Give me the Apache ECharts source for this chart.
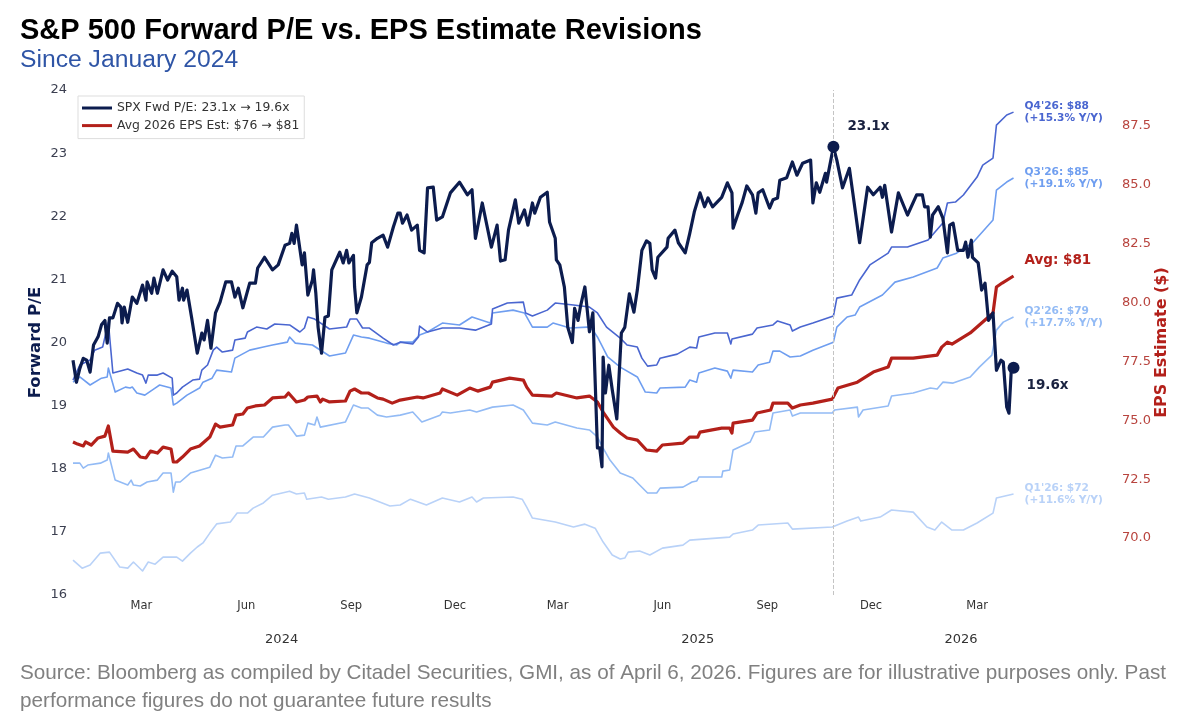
<!DOCTYPE html>
<html>
<head>
<meta charset="utf-8">
<title>S&amp;P 500 Forward P/E vs. EPS Estimate Revisions</title>
<script src="https://cdn.jsdelivr.net/npm/echarts@6/dist/echarts.min.js"></script>
<style>
	html, body { margin: 0; padding: 0; background: #fff; }
	#chart { width: 1199px; height: 728px; }
</style>
</head>
<body>
<div id="chart"></div>
<script>
// x values are days since 1 Jan 2024
var monthDays = [60, 152, 244, 335, 425, 517, 609, 700, 793];
var monthLabels = ["Mar", "Jun", "Sep", "Dec", "Mar", "Jun", "Sep", "Dec", "Mar"];
var yearDays = [183, 548, 779];
var yearLabels = ["2024", "2025", "2026"];
var epsTicks = [70, 72.5, 75, 77.5, 80, 82.5, 85, 87.5];

var peDays = [0,3,6,9,12,15,18,22,25,28,30,32,35,39,42,43,45,48,52,56,61,64,65,69,71,74,79,83,87,91,93,96,97,100,104,109,113,115,118,121,125,129,134,139,142,145,149,155,160,162,168,175,180,186,190,192,194,196,201,203,206,210,211,213,215,218,221,224,227,232,234,237,240,242,246,247,249,253,258,260,262,267,272,276,281,285,287,289,293,297,302,304,308,311,316,319,324,331,339,346,350,353,359,367,372,375,379,382,388,391,396,399,403,405,410,416,418,423,424,427,431,434,438,440,443,445,449,453,456,460,462,464,465,467,470,473,477,481,484,488,492,495,499,503,506,508,511,513,521,522,528,531,537,541,545,550,554,557,561,569,574,578,579,583,587,591,596,599,601,605,611,614,618,620,626,631,635,640,647,649,652,655,660,661,667,670,675,681,684,690,697,702,708,710,712,718,724,732,740,745,747,750,752,754,759,763,767,769,772,776,781,783,785,788,789,794,797,800,803,807,810,814,816,819,821,823,825];
var peValues = [19.72,19.37,19.59,19.75,19.72,19.53,19.96,20.09,20.28,20.35,19.99,20.39,20.39,20.62,20.56,20.31,20.56,20.32,20.72,20.62,20.91,20.67,20.96,20.78,21.02,20.78,21.15,20.99,21.13,21.04,20.67,20.86,20.67,20.83,20.4,19.83,20.15,20.04,20.35,19.91,20.47,20.64,20.96,20.96,20.72,20.86,20.55,20.94,20.94,21.18,21.35,21.15,21.23,21.54,21.57,21.73,21.57,21.86,21.23,21.42,20.75,20.99,21.15,20.78,20.24,19.83,20.4,20.42,21.15,21.35,21.43,21.26,21.46,21.26,21.38,20.88,20.47,20.72,21.23,21.27,21.58,21.65,21.7,21.51,21.83,22.05,22.05,21.89,22.02,21.78,21.86,21.46,21.42,22.45,22.46,21.94,21.99,22.37,22.54,22.34,22.42,21.65,22.21,21.51,21.86,21.29,21.31,21.78,22.26,21.89,22.1,21.86,22.21,22.05,22.3,22.38,21.91,21.65,21.31,21.23,20.88,20.24,20,20.54,20.35,20.56,20.88,20.17,20.47,18.33,18.33,18.03,19.77,19.2,19.64,19.25,18.79,20.15,20.24,20.77,20.48,20.83,21.46,21.61,21.57,21.15,21.02,21.35,21.51,21.65,21.78,21.58,21.42,21.73,22.07,22.37,22.15,22.29,22.15,22.3,22.53,22.37,21.81,22.02,22.22,22.48,22.34,22.05,22.37,22.42,22.13,22.26,22.29,22.57,22.61,22.86,22.65,22.84,22.89,22.21,22.53,22.38,22.68,22.54,23.1,22.89,22.45,22.76,22.37,21.58,22.46,22.34,22.46,22.3,22.49,21.75,22.37,22.02,22.34,22.34,22.15,22.15,21.67,22.02,22.15,21.97,21.42,21.86,21.89,21.46,21.46,21.59,21.35,21.62,21.35,21.26,20.83,20.94,20.35,20.47,19.56,19.72,19.69,18.98,18.88,19.56,19.6];

var avgDays = [0,4,9,11,16,22,28,31,35,48,53,59,64,68,74,79,86,88,91,96,103,111,115,120,125,129,140,143,149,153,160,168,175,186,189,196,203,206,214,217,219,225,239,243,247,253,259,267,272,280,287,302,307,322,324,337,348,355,366,368,383,395,398,403,420,424,442,453,460,465,474,480,486,495,503,512,517,535,541,548,550,569,576,578,579,596,600,612,614,627,631,638,649,666,671,688,702,715,718,737,758,762,767,771,787,795,807,810,815,825];
var avgValues = [74.08,73.99,73.91,74.08,73.95,74.25,74.33,74.76,73.69,73.65,73.78,73.44,73.4,73.69,73.61,73.86,73.78,73.23,73.23,73.44,73.78,73.91,74.08,74.29,74.84,74.71,74.8,75.22,75.27,75.52,75.61,75.65,75.95,75.99,76.16,75.78,75.86,75.99,76.03,75.78,75.9,75.78,75.82,76.24,76.33,76.16,76.16,75.95,75.9,75.73,75.86,75.99,75.95,76.16,76.33,76.07,76.37,76.24,76.41,76.62,76.79,76.71,76.41,76.07,76.03,76.16,75.95,76.03,75.78,75.35,74.71,74.46,74.25,74.16,73.74,73.69,73.95,74.03,74.29,74.29,74.5,74.67,74.67,74.46,74.88,75.01,75.31,75.44,75.73,75.73,75.52,75.65,75.73,75.9,76.37,76.62,77.05,77.26,77.64,77.64,77.77,78.11,78.32,78.24,78.71,79.05,79.56,80.66,80.83,81.13];

var q4Days = [0,6,15,19,26,31,35,44,48,56,61,64,66,74,79,87,88,91,96,105,111,113,118,123,126,131,140,142,151,153,161,170,177,190,199,203,206,212,225,240,243,249,254,260,272,281,287,298,303,304,311,324,339,353,367,368,381,395,397,403,416,423,439,453,460,468,480,486,495,499,504,512,515,530,541,547,549,563,574,577,578,596,600,614,618,629,631,638,649,667,670,683,690,699,715,718,732,750,763,767,774,781,793,798,807,810,819,825];
var q4Values = [76.71,77.35,77.56,77.98,78.11,79.17,77.01,77.13,77.18,77.01,76.92,76.58,76.92,76.92,77.01,76.79,76.07,76.16,76.41,76.71,76.75,77.13,77.35,77.98,78.11,77.9,77.98,78.41,78.49,78.75,78.96,78.88,79.09,79.05,78.75,78.92,79.39,79.3,78.88,78.96,79.3,79.3,78.92,78.92,78.49,78.2,78.32,78.24,78.54,79,78.75,78.92,78.92,78.83,79.09,79.73,79.98,80.02,79.56,79.43,79.68,79.98,79.9,79.81,79.56,78.96,78.49,78.2,78.11,77.64,77.3,77.35,77.64,77.81,78.11,78.07,78.54,78.71,78.71,78.24,78.45,78.66,78.92,79.05,79.22,79.05,78.79,78.96,79.13,79.43,80.19,80.32,80.96,81.6,82.1,82.36,82.36,82.66,83.38,84.23,84.27,84.57,85.33,85.84,86.14,87.54,87.97,88.09];

var q3Days = [0,6,15,25,30,31,37,46,50,52,56,63,72,76,86,88,91,100,111,114,122,126,139,142,155,167,175,188,190,195,210,225,239,246,253,260,275,284,287,298,304,311,324,339,350,366,368,386,396,403,416,421,436,451,456,460,469,480,495,502,512,515,537,541,547,549,563,574,577,579,596,601,611,614,620,629,638,649,667,670,679,686,690,710,721,737,758,763,775,789,807,810,819,825];
var q3Values = [76.62,76.84,76.5,76.79,76.84,77.22,76.2,76.41,76.37,76.41,76.16,76.07,76.37,76.5,76.37,75.65,75.73,76.07,76.37,76.62,76.79,77.13,77.05,77.64,77.98,78.11,78.2,78.32,78.54,78.28,78.2,77.73,77.86,78.62,78.54,78.49,78.28,78.2,78.32,78.32,78.62,78.75,79.13,79.05,79.39,79.13,79.56,79.68,79.56,78.96,78.96,79.13,78.92,78.96,78.83,78.54,77.69,77.26,76.84,76.2,76.16,76.37,76.41,76.71,76.62,77.01,77.22,77.09,76.79,77.13,77.05,77.35,77.47,77.94,77.94,77.69,77.73,77.98,78.32,78.96,79.39,79.47,79.81,80.32,80.87,81.09,81.47,81.89,82.1,82.53,83.51,84.78,85.12,85.29];

var q2Days = [0,6,9,13,24,30,31,37,48,51,53,59,65,74,79,86,88,90,94,103,120,125,131,140,143,149,158,167,175,186,189,196,203,206,212,214,217,239,246,253,259,267,275,287,298,306,322,324,331,348,354,368,386,395,403,416,423,442,453,460,465,471,480,491,497,504,512,515,535,543,547,549,569,570,576,579,594,598,611,614,629,631,638,666,668,688,689,693,715,718,737,752,758,763,772,787,795,806,810,816,825];
var q2Values = [73.18,73.18,72.97,73.1,73.18,73.31,73.61,72.46,72.25,72.46,72.25,72.21,72.38,72.46,72.76,72.76,71.95,72.38,72.38,72.76,73.01,73.52,73.4,73.44,73.91,73.91,74.29,74.29,74.71,74.8,74.8,74.33,74.37,74.88,74.8,75.14,74.71,74.93,75.65,75.52,75.52,75.22,75.14,75.22,75.35,74.93,75.22,75.35,75.31,75.44,75.35,75.56,75.65,75.44,74.88,74.8,74.93,74.67,74.59,74.29,73.82,73.31,72.76,72.55,72.25,71.91,71.91,72.12,72.16,72.38,72.42,72.59,72.59,72.84,72.89,73.74,74.08,74.5,74.59,75.31,75.44,75.18,75.31,75.31,75.44,75.56,75.14,75.44,75.61,76.03,76.16,76.37,76.33,76.62,76.58,76.84,77.26,77.77,78.83,79.17,79.39];

var q1Days = [0,8,15,24,32,41,48,53,61,66,72,79,91,96,103,109,114,120,126,138,144,153,158,167,175,190,196,203,205,218,224,239,247,260,278,287,296,310,324,339,350,354,360,386,394,398,403,423,439,449,458,465,473,480,484,487,497,506,517,535,541,576,579,596,601,627,631,666,679,689,691,708,718,737,749,756,762,771,781,793,807,810,825];
var q1Values = [69.06,68.72,68.85,69.36,69.4,68.77,68.72,68.98,68.6,68.98,68.89,69.19,69.19,69.02,69.36,69.62,69.79,70.21,70.6,70.68,71.06,71.06,71.27,71.49,71.82,71.99,71.87,71.91,71.65,71.74,71.65,71.74,71.87,71.7,71.36,71.4,71.65,71.4,71.7,71.53,71.74,71.53,71.7,71.74,71.65,71.31,70.85,70.68,70.47,70.59,70.42,69.83,69.28,69.11,69.15,69.4,69.45,69.28,69.57,69.7,69.91,70.04,70.17,70.34,70.55,70.64,70.38,70.47,70.72,70.89,70.72,70.89,71.19,71.1,70.47,70.34,70.68,70.34,70.34,70.64,71.06,71.7,71.87];

var peName = "SPX Fwd P/E: 23.1x \u2192 19.6x";
var avgName = "Avg 2026 EPS Est: $76 \u2192 $81";
var peakDay = 667;

var sans = "DejaVu Sans";
var navy = "#0c1c4e";
var red = "#b3201a";

function zip(days, values) {
	return days.map(function(d, i) { return [d, values[i]]; });
}

function epsLine(name, days, values, color, label) {
	return {
		name: name,
		type: "line",
		yAxisIndex: 1,
		data: zip(days, values),
		showSymbol: false,
		lineStyle: { color: color, width: 1.6, join: "round" },
		endLabel: {
			show: true,
			formatter: label,
			color: color,
			fontFamily: sans,
			fontWeight: "bold",
			fontSize: 10.6,
			lineHeight: 12,
			distance: 11
		}
	};
}

var chart = echarts.init(document.getElementById("chart"));

chart.setOption({
	animation: false,
	backgroundColor: "#fff",
	title: [
		{
			text: "S&P 500 Forward P/E vs. EPS Estimate Revisions",
			left: 15, top: 11,
			textStyle: { fontFamily: "Liberation Sans", fontSize: 29, fontWeight: "bold", color: "#000" }
		},
		{
			text: "Since January 2024",
			left: 15, top: 43,
			textStyle: { fontFamily: "Liberation Sans", fontSize: 24.7, fontWeight: "normal", color: "#2f55a6" }
		},
		{
			text: "Source: Bloomberg as compiled by Citadel Securities, GMI, as of April 6, 2026. Figures are for illustrative purposes only. Past\nperformance figures do not guarantee future results",
			left: 15, top: 654,
			textStyle: { fontFamily: "Liberation Sans", fontSize: 20.7, fontWeight: "normal", color: "#808080", lineHeight: 28 }
		}
	],
	legend: {
		data: [peName, avgName],
		orient: "vertical",
		left: 78, top: 96,
		padding: [6, 5, 7, 4],
		itemWidth: 30,
		itemHeight: 3,
		itemGap: 5.6,
		icon: "rect",
		borderColor: "#ddd",
		borderWidth: 1,
		backgroundColor: "#fff",
		textStyle: { fontFamily: sans, fontSize: 12.4, color: "#333" }
	},
	grid: { left: 73, right: 84, top: 90, height: 505 },
	xAxis: [
		{
			type: "value",
			min: 0,
			max: 914,
			splitLine: { show: false },
			axisLine: { show: false },
			axisTick: { show: false },
			axisLabel: {
				customValues: monthDays,
				formatter: function(v) { return monthLabels[monthDays.indexOf(v)]; },
				fontFamily: sans, fontSize: 11.5, color: "#333", margin: 5
			}
		},
		{
			type: "value",
			position: "bottom",
			offset: 34,
			min: 0,
			max: 914,
			splitLine: { show: false },
			axisLine: { show: false },
			axisTick: { show: false },
			axisLabel: {
				customValues: yearDays,
				formatter: function(v) { return yearLabels[yearDays.indexOf(v)]; },
				fontFamily: sans, fontSize: 13, color: "#333", margin: 4
			}
		}
	],
	yAxis: [
		{
			type: "value",
			min: 16,
			max: 24,
			interval: 1,
			name: "Forward P/E",
			nameLocation: "middle",
			nameGap: 29,
			nameMoveOverlap: false,
			nameTextStyle: { fontFamily: sans, fontSize: 16.5, fontWeight: "bold", color: navy },
			splitLine: { show: false },
			axisLine: { show: false },
			axisTick: { show: false },
			axisLabel: { fontFamily: sans, fontSize: 13, color: "#3b3f50", margin: 6 }
		},
		{
			type: "value",
			position: "right",
			min: 67.58,
			max: 89.03,
			name: "EPS Estimate ($)",
			nameLocation: "middle",
			nameGap: 39,
			nameMoveOverlap: false,
			nameTextStyle: { fontFamily: sans, fontSize: 16, fontWeight: "bold", color: red },
			splitLine: { show: false },
			axisLine: { show: false },
			axisTick: { show: false },
			axisLabel: {
				customValues: epsTicks,
				formatter: function(v) { return v.toFixed(1); },
				fontFamily: sans, fontSize: 13, color: "#b8443e", margin: 7
			}
		}
	],
	series: [
		epsLine("Q1'26", q1Days, q1Values, "#b9d2f8", "Q1'26: $72\n(+11.6% Y/Y)"),
		epsLine("Q2'26", q2Days, q2Values, "#93bbf5", "Q2'26: $79\n(+17.7% Y/Y)"),
		epsLine("Q3'26", q3Days, q3Values, "#6f9ef0", "Q3'26: $85\n(+19.1% Y/Y)"),
		epsLine("Q4'26", q4Days, q4Values, "#4a66d0", "Q4'26: $88\n(+15.3% Y/Y)"),
		{
			name: avgName,
			type: "line",
			yAxisIndex: 1,
			data: zip(avgDays, avgValues),
			showSymbol: false,
			itemStyle: { color: red },
			lineStyle: { color: red, width: 3.2, join: "round" },
			endLabel: {
				show: true,
				formatter: "Avg: $81",
				color: red,
				fontFamily: sans,
				fontWeight: "bold",
				fontSize: 13.5,
				offset: [3, -15]
			}
		},
		{
			name: peName,
			type: "line",
			data: zip(peDays, peValues),
			showSymbol: false,
			itemStyle: { color: navy },
			lineStyle: { color: navy, width: 3.2, join: "round" },
			markLine: {
				silent: true,
				symbol: "none",
				label: { show: false },
				lineStyle: { color: "#c4c4c4", type: "dashed", width: 1 },
				data: [{ xAxis: peakDay }]
			}
		},
		{
			name: "P/E ends",
			type: "scatter",
			symbolSize: 12,
			itemStyle: { color: navy, opacity: 1 },
			z: 5,
			data: [
				{
					value: [peakDay, peValues[peDays.indexOf(peakDay)]],
					label: { show: true, formatter: "23.1x", position: "right", offset: [3, -20] }
				},
				{
					value: [peDays[peDays.length - 1], peValues[peValues.length - 1]],
					label: { show: true, formatter: "19.6x", position: "right", offset: [2, 18] }
				}
			],
			label: { fontFamily: sans, fontSize: 13.5, fontWeight: "bold", color: "#1a2240", opacity: 1 }
		}
	]
});
</script>
</body>
</html>
